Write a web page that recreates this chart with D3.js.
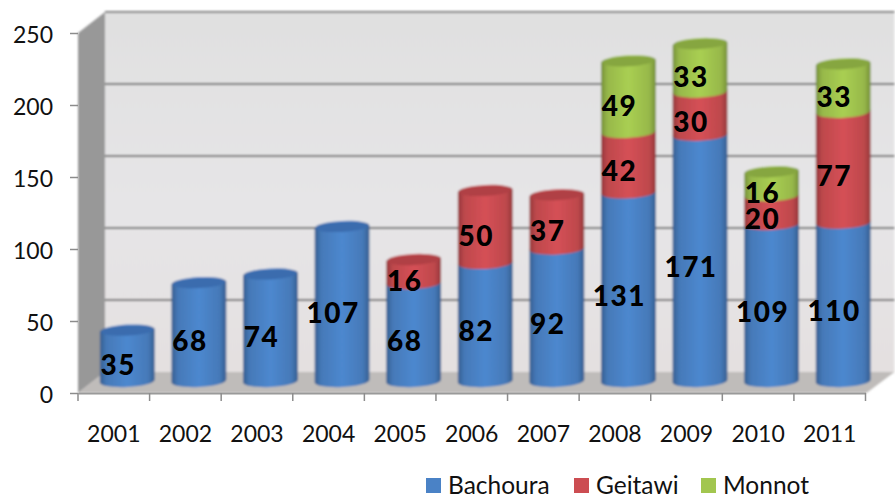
<!DOCTYPE html>
<html>
<head>
<meta charset="utf-8">
<script src="https://cdn.jsdelivr.net/npm/d3@7"></script>
<style>
  html, body { margin: 0; padding: 0; background: #fff; }
  svg { display: block; }
  text { font-family: Lato, sans-serif; fill: #111; }
  .value { font-weight: 900; font-size: 28px; letter-spacing: 1.5px; text-anchor: middle; fill: #000; }
</style>
</head>
<body>
<div id="chartContainer"></div>
<script>
// chart values
var years = ["2001","2002","2003","2004","2005","2006","2007","2008","2009","2010","2011"];
var bachoura = [35, 68, 74, 107, 68, 82, 92, 131, 171, 109, 110];
var geitawi  = [0, 0, 0, 0, 16, 50, 37, 42, 30, 20, 77];
var monnot   = [0, 0, 0, 0, 0, 0, 0, 49, 33, 16, 33];
var seriesNames = ["Bachoura", "Geitawi", "Monnot"];
var yTicks = [0, 50, 100, 150, 200, 250];

var width = 895, height = 498;
var depthX = 27, depthY = 21;

var x = d3.scaleBand().domain(years).range([78, 865.5]);
var y = d3.scaleLinear().domain([0, 250]).range([393, 33]);
var color = d3.scaleOrdinal().domain(seriesNames).range(["#4a82c6", "#cc4d52", "#a2c64f"]);
var capColor = d3.scaleOrdinal().domain(seriesNames).range(["#3a6cae", "#b04045", "#86a63f"]);
var legendX = d3.scaleOrdinal().domain(seriesNames).range([426, 574, 701]);

var table = years.map(function(d, i) {
  return {year: d, Bachoura: bachoura[i], Geitawi: geitawi[i], Monnot: monnot[i]};
});
var stacked = d3.stack().keys(seriesNames)(table);

var svg = d3.select("#chartContainer").append("svg")
  .attr("width", width)
  .attr("height", height);

var defs = svg.append("defs");

// 円柱の陰影
seriesNames.forEach(function(name) {
  var c = d3.color(color(name));
  var g = defs.append("linearGradient").attr("id", "cyl-" + name);
  g.append("stop").attr("offset", "0%").attr("stop-color", c.darker(0.9));
  g.append("stop").attr("offset", "12%").attr("stop-color", c.darker(0.2));
  g.append("stop").attr("offset", "50%").attr("stop-color", c.brighter(0.12));
  g.append("stop").attr("offset", "88%").attr("stop-color", c.darker(0.2));
  g.append("stop").attr("offset", "100%").attr("stop-color", c.darker(0.9));
});

var wallGrad = defs.append("linearGradient").attr("id", "wall")
  .attr("x1", 0).attr("x2", 0).attr("y1", 0).attr("y2", 1);
wallGrad.append("stop").attr("offset", "0%").attr("stop-color", "#e0e0e0");
wallGrad.append("stop").attr("offset", "55%").attr("stop-color", "#e6e5e7");
wallGrad.append("stop").attr("offset", "100%").attr("stop-color", "#e4e0e0");

defs.append("filter").attr("id", "soft")
  .append("feGaussianBlur").attr("stdDeviation", 1);

var plot = svg.append("g").attr("filter", "url(#soft)");

var backLeft = x.range()[0] + depthX;
var backRight = x.range()[1] + depthX + 2;

// back wall
plot.append("rect")
  .attr("x", backLeft).attr("y", y(250) - depthY)
  .attr("width", backRight - backLeft)
  .attr("height", y(0) - y(250))
  .attr("fill", "url(#wall)");

// side wall
plot.append("path")
  .attr("d", d3.line()([[x.range()[0], y(250)], [backLeft, y(250) - depthY], [backLeft, y(0) - depthY], [x.range()[0], y(0)]]) + "Z")
  .attr("fill", "#989898");

// floor
plot.append("path")
  .attr("d", d3.line()([[x.range()[0], y(0)], [backLeft, y(0) - depthY], [backRight, y(0) - depthY], [x.range()[1] + 1, y(0)]]) + "Z")
  .attr("fill", "#bfbcba");

// 目盛り線
plot.selectAll("line.grid").data(yTicks.slice(1)).enter().append("line")
  .attr("class", "grid")
  .attr("x1", backLeft).attr("x2", backRight)
  .attr("y1", function(d) { return y(d) - depthY; })
  .attr("y2", function(d) { return y(d) - depthY; })
  .attr("stroke", function(d) { return d === 250 ? "#808080" : "#6e6e6e"; })
  .attr("stroke-width", 1.8);

// cylinders
var barW = x.bandwidth() * 0.765;
var rx = barW / 2, ry = 6;
var tilt = 1.5;
var floorLift = 12;

function barX(d) { return x(d) + x.bandwidth() / 2 + 13.5; }

function segPath(cx, top, bottom) {
  return "M" + (cx - rx) + "," + (top + tilt) +
    "A" + rx + "," + ry + " -3 0 1 " + (cx + rx) + "," + (top - tilt) +
    "L" + (cx + rx) + "," + (bottom - tilt) +
    "A" + rx + "," + ry + " -3 0 1 " + (cx - rx) + "," + (bottom + tilt) + "Z";
}

stacked.forEach(function(layer) {
  plot.append("g").selectAll("path")
    .data(layer.filter(function(d) { return d[1] > d[0]; }))
    .enter().append("path")
    .attr("d", function(d) {
      return segPath(barX(d.data.year), y(d[1]) - floorLift, y(d[0]) - floorLift);
    })
    .attr("fill", "url(#cyl-" + layer.key + ")");
});

// 上面の楕円
plot.append("g").selectAll("ellipse").data(table).enter().append("ellipse")
  .attr("cx", function(d) { return barX(d.year); })
  .attr("cy", function(d) { return y(d.Bachoura + d.Geitawi + d.Monnot) - floorLift; })
  .attr("rx", rx - 1).attr("ry", ry - 1)
  .attr("transform", function(d) {
    return "rotate(-3 " + barX(d.year) + " " + (y(d.Bachoura + d.Geitawi + d.Monnot) - floorLift) + ")";
  })
  .attr("fill", function(d) {
    return capColor(d.Monnot ? "Monnot" : d.Geitawi ? "Geitawi" : "Bachoura");
  });

// axes
var xAxis = d3.axisBottom(x).tickSize(0).tickPadding(33);
var yAxis = d3.axisLeft(y).tickValues(yTicks).tickSize(8).tickPadding(17);

var gx = svg.append("g").attr("transform", "translate(0," + y(0) + ")").call(xAxis);
gx.select(".domain").attr("stroke", "#9a9a9a").attr("stroke-width", 2);
gx.selectAll("text").attr("font-size", 23).style("font-family", "Lato, sans-serif").attr("fill", "#111");

svg.append("g").selectAll("line").data(years.concat(["end"])).enter().append("line")
  .attr("x1", function(d) { return d === "end" ? x.range()[1] : x(d); })
  .attr("x2", function(d) { return d === "end" ? x.range()[1] : x(d); })
  .attr("y1", y(0)).attr("y2", y(0) + 8)
  .attr("stroke", "#8c8c8c").attr("stroke-width", 1.5);

var gy = svg.append("g").attr("transform", "translate(" + x.range()[0] + ",0)").call(yAxis);
gy.select(".domain").remove();
gy.selectAll("line").attr("stroke", "#8c8c8c").attr("stroke-width", 1.5);
gy.selectAll("text").attr("font-size", 23).attr("dy", "0.42em").style("font-family", "Lato, sans-serif").attr("fill", "#111");

// data labels
stacked.forEach(function(layer) {
  svg.append("g").selectAll("text")
    .data(layer.filter(function(d) { return d[1] > d[0]; }))
    .enter().append("text")
    .attr("class", "value")
    .attr("x", function(d) { return barX(d.data.year) - 9; })
    .attr("y", function(d) { return y((d[0] + d[1]) / 2) - floorLift + 19; })
    .text(function(d) { return d[1] - d[0]; });
});

// legend
var legend = svg.append("g").selectAll("g").data(seriesNames).enter().append("g")
  .attr("transform", function(d) { return "translate(" + legendX(d) + ",478)"; });
legend.append("rect").attr("width", 15).attr("height", 15)
  .attr("fill", function(d) { return color(d); });
legend.append("text").attr("x", 22).attr("y", 16)
  .attr("font-size", 24.5)
  .text(function(d) { return d; });
</script>
</body>
</html>
